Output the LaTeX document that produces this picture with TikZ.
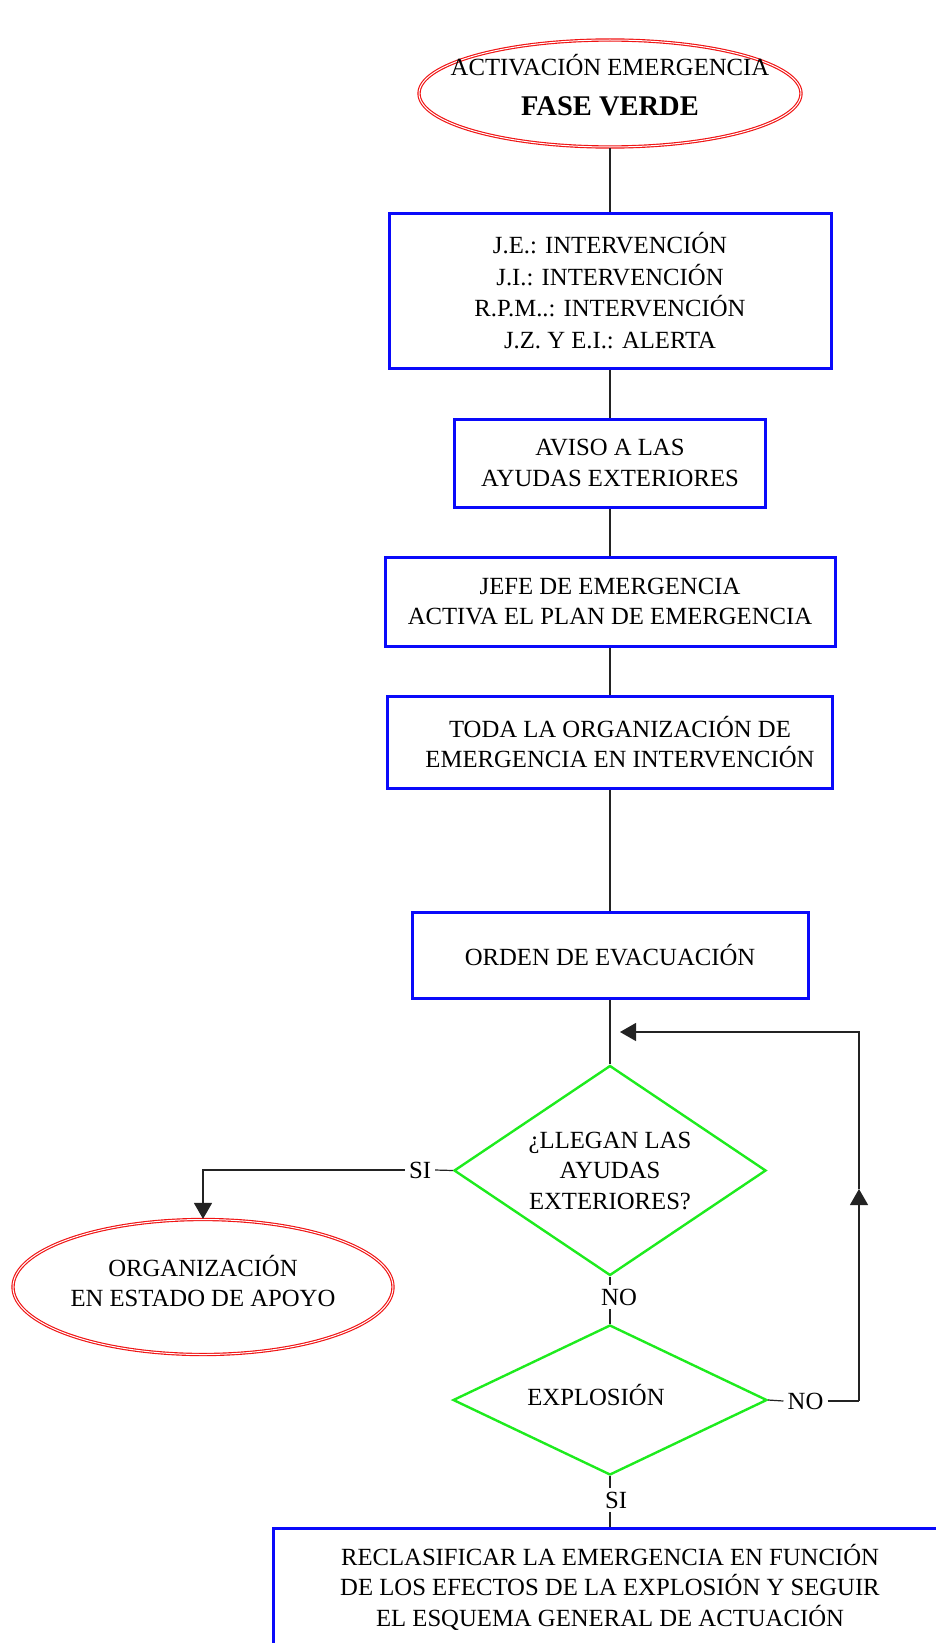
\documentclass[tikz,border=0pt]{standalone}
\usepackage{fontspec}
\setmainfont{Liberation Serif}
\usetikzlibrary{shapes.geometric,arrows.meta}

\definecolor{boxblue}{RGB}{10,10,250}
\definecolor{decgreen}{RGB}{30,235,30}
\definecolor{ovalred}{RGB}{240,20,20}
\definecolor{wirecol}{RGB}{35,35,35}

\begin{document}
\begin{tikzpicture}[x=1pt,y=-1pt,
  every node/.style={font=\fontsize{24.7}{30.5}\selectfont, align=center, inner sep=0pt},
  stepbox/.style={rectangle, draw=boxblue, line width=3pt},
  decision/.style={diamond, draw=decgreen, line width=2.4pt},
  oval/.style={ellipse, draw=ovalred, line width=1.15pt, double=white, double distance=1pt},
  wire/.style={draw=wirecol, line width=1.2pt},
  tip/.style={-{Triangle[length=16pt,width=18pt]}},
  tag/.style={inner xsep=4pt, inner ysep=3.5pt}
]
\useasboundingbox (0,0) rectangle (936,1643);
\clip (0,0) rectangle (936,1643);

% main column
\node[oval, minimum width=382pt, minimum height=107pt,
      label={[name=starttext, yshift=8.3pt]center:{ACTIVACIÓN EMERGENCIA\\[9pt]{\fontsize{28.5}{30}\selectfont\bfseries FASE VERDE}}}]
  (start) at (610,93.5) {};

\node[stepbox, minimum width=442pt, minimum height=155pt,
      font=\fontsize{24.7}{31.7}\selectfont] (b1) at (610,290.5)
  {J.E.: INTERVENCIÓN\\J.I.: INTERVENCIÓN\\R.P.M..: INTERVENCIÓN\\J.Z. Y E.I.: ALERTA};

\node[stepbox, minimum width=311pt, minimum height=88pt] (b2) at (610,463)
  {AVISO A LAS\\AYUDAS EXTERIORES};

\node[stepbox, minimum width=450pt, minimum height=89pt] (b3) at (610,601.5)
  {JEFE DE EMERGENCIA\\ACTIVA EL PLAN DE EMERGENCIA};

\node[stepbox, minimum width=445pt, minimum height=92pt,
      label={[name=b4text, xshift=10pt]center:{TODA LA ORGANIZACIÓN DE\\EMERGENCIA EN INTERVENCIÓN}}]
  (b4) at (610,742) {};

\node[stepbox, minimum width=396pt, minimum height=86pt] (b5) at (610,955)
  {ORDEN DE EVACUACIÓN};

\node[decision, aspect=1.486, minimum width=312pt, minimum height=210pt] (d1) at (610,1170.5)
  {¿LLEGAN LAS\\AYUDAS\\EXTERIORES?};

\node[decision, aspect=2.09, minimum width=314pt, minimum height=150pt,
      label={[name=d2text, xshift=-14pt, yshift=5pt]center:{EXPLOSIÓN}}]
  (d2) at (610,1400) {};

\node[oval, minimum width=380pt, minimum height=135pt,
      label={[name=orgtext, yshift=6pt]center:{ORGANIZACIÓN\\EN ESTADO DE APOYO}}]
  (org) at (203,1287) {};

\node[stepbox, minimum width=674pt, minimum height=118pt] (final) at (610,1587)
  {RECLASIFICAR LA EMERGENCIA EN FUNCIÓN\\DE LOS EFECTOS DE LA EXPLOSIÓN Y SEGUIR\\EL ESQUEMA GENERAL DE ACTUACIÓN};

% branch labels
\node[tag] (si1) at (420,1170) {SI};
\node[tag] (no1) at (619,1297) {NO};
\node[tag] (no2) at (805.5,1401) {NO};
\node[tag] (si2) at (616,1500) {SI};

% loop-back route
\coordinate (loopbot) at (859,1401);
\coordinate (loopmid) at (859,1189);
\coordinate (looptop) at (859,1032);
\coordinate (reentry) at (620,1032);

% connectors
\draw[wire] (start) -- (b1);
\draw[wire] (b1) -- (b2);
\draw[wire] (b2) -- (b3);
\draw[wire] (b3) -- (b4);
\draw[wire] (b4) -- (b5);
\draw[wire] (b5) -- (d1);

\draw[wire] (d1.west) -- (si1.east);
\draw[wire, tip] (si1.west) -| (org.north);

\draw[wire] (d1.south) -- (d1.south |- no1.north);
\draw[wire] (d2.north |- no1.south) -- (d2.north);

\draw[wire] (d2.east) -- (no2.west);
\draw[wire] (no2.east) -- (loopbot);
\draw[wire, tip] (loopbot) -- (loopmid);
\draw[wire, tip] (loopmid) -- (looptop) -- (reentry);

\draw[wire] (d2.south) -- (d2.south |- si2.north);
\draw[wire] (final.north |- si2.south) -- (final.north);
\end{tikzpicture}
\end{document}
